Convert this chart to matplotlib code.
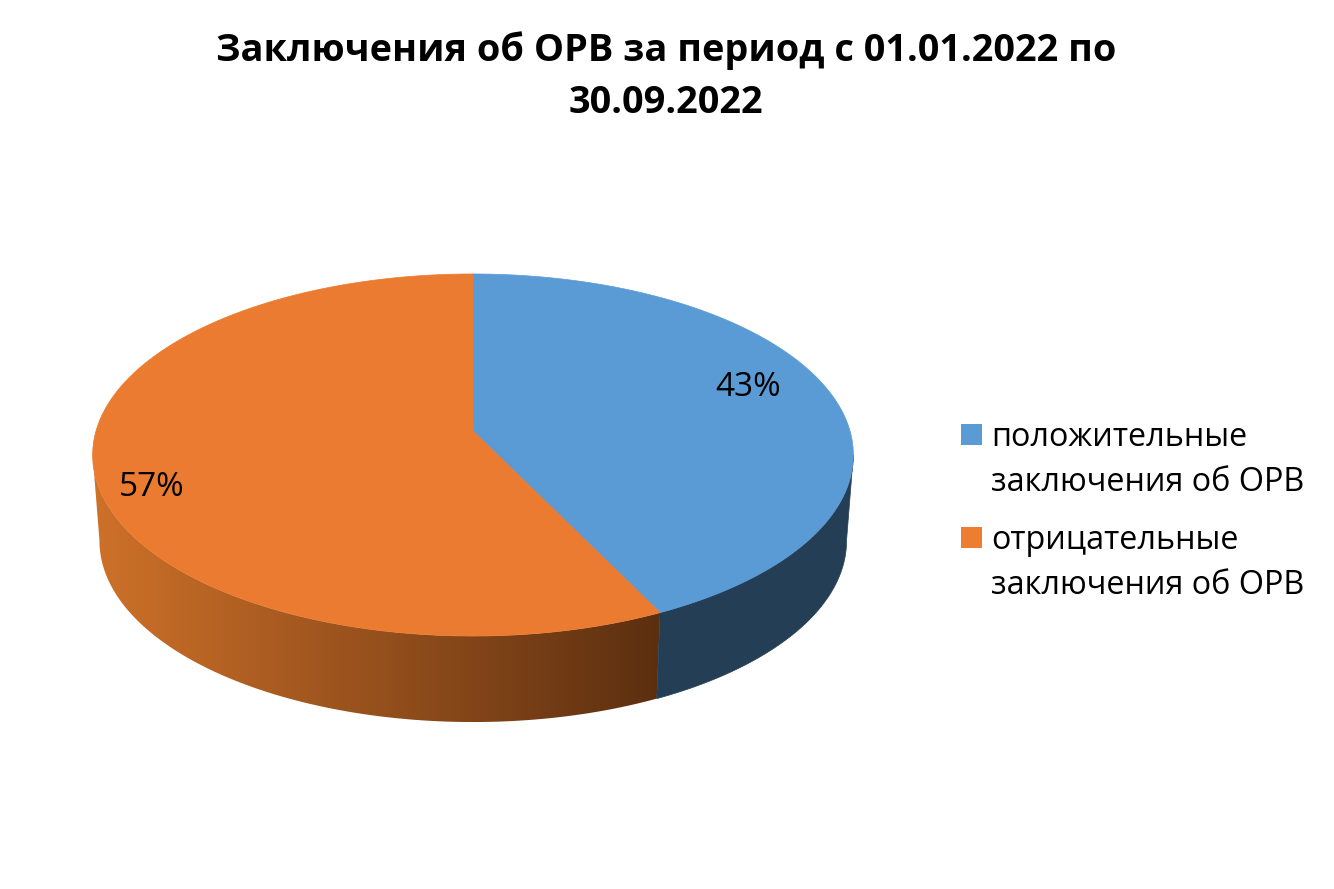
import numpy as np
import matplotlib
matplotlib.use('Agg')
import matplotlib.pyplot as plt
from matplotlib.colors import LinearSegmentedColormap
from matplotlib.patches import Polygon, Rectangle

plt.rcParams['font.family'] = ['Open Sans', 'DejaVu Sans']

title = 'Заключения об ОРВ за период с 01.01.2022 по\n30.09.2022'
labels = ['положительные\nзаключения об ОРВ', 'отрицательные\nзаключения об ОРВ']
values = [42.8, 57.2]
colors = ['#5B9BD5', '#EA7B30']
legend_colors = ['#5B9BD5', '#ED7D31']
side_blue = '#243F55'
side_orange = ['#CE7129', '#5C2F10']

# perspective of the disc
CX, CY = 473, 431
RX = 377
TILT = 0.1326
RISE = -120.7
DEPTH = 86


def project(theta, shrink=1.0, drop=0.0):
    u = np.cos(theta)
    w = 1 + TILT * u
    x = CX + RX * shrink * np.sin(theta) / w
    y = (CY + RISE * u) / w
    return x, y + drop


fig = plt.figure(figsize=(13.34, 8.89), dpi=100)
ax = fig.add_axes([0, 0, 1, 1])

edges = 2 * np.pi * np.cumsum([0] + values) / sum(values)

# side wall, starts where the rim is widest
for i in range(len(values)):
    t0 = max(edges[i], np.pi / 2 + TILT)
    t1 = min(edges[i + 1], 3 * np.pi / 2 - TILT)
    t = np.linspace(t0, t1, 200)
    tx, ty = project(t)
    bx, by = project(t, shrink=0.982, drop=DEPTH)
    pts = np.column_stack([np.r_[tx, bx[::-1]], np.r_[ty, by[::-1]]])
    if i == 0:
        ax.add_patch(Polygon(pts, closed=True, fc=side_blue, ec=side_blue, lw=0.5))
    else:
        cmap = LinearSegmentedColormap.from_list('side', side_orange)
        patch = Polygon(pts, closed=True, fc='none', ec='none')
        ax.add_patch(patch)
        img = ax.imshow(np.linspace(0, 1, 256).reshape(1, -1), cmap=cmap, aspect='auto',
                        extent=(pts[:, 0].min(), pts[:, 0].max(), pts[:, 1].max(), pts[:, 1].min()))
        img.set_clip_path(patch)

ax.set_xlim(0, 1334)
ax.set_ylim(889, 0)
ax.axis('off')

# top of the disc
for i, c in enumerate(colors):
    t = np.linspace(edges[i], edges[i + 1], 300)
    x, y = project(t)
    pts = np.column_stack([np.r_[CX, x], np.r_[CY, y]])
    ax.add_patch(Polygon(pts, closed=True, fc=c, ec=c, lw=0.5))

# data labels
label_at = [(748, 387), (152, 487)]
for v, (lx, ly) in zip(values, label_at):
    ax.text(lx, ly, f'{v:.0f}%', fontsize=24, ha='center', va='center', color='black')

ax.text(666, 76.5, title, fontsize=27.3, fontweight='bold', ha='center', va='center',
        linespacing=1.5, color='black')

# legend, square sits on the first line of its label
for c, lab, top in zip(legend_colors, labels, [424, 527]):
    ax.add_patch(Rectangle((961, top), 21, 21, fc=c, ec='none'))
    ax.text(991, top + 36, lab, fontsize=23.3, ha='left', va='center', linespacing=1.5, color='black')

fig.savefig('out.png', dpi=100)
